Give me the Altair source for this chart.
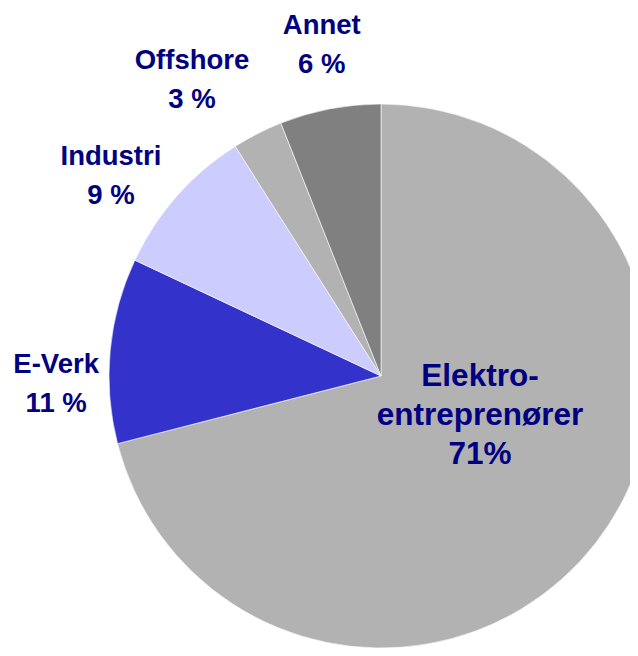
import altair as alt
import pandas as pd

# --- data ---
categories = ["Elektroentreprenører", "E-Verk", "Industri", "Offshore", "Annet"]
values = [71, 11, 9, 3, 6]
label_texts = ["Elektro-\nentreprenører\n71%", "E-Verk\n11 %", "Industri\n9 %", "Offshore\n3 %", "Annet\n6 %"]

# --- layout / style ---
colors = ["#b2b2b2", "#3333cc", "#ccccff", "#b2b2b2", "#808080"]
label_angle = [90.6, 271.9, 309.1, 329.0, 350.4]   # degrees clockwise from 12 o'clock (first text line)
label_radius = [99, 325, 348, 367, 355]            # px from centre
CX, CY, R = 373, 368, 272

df = pd.DataFrame({
    "cat": categories,
    "value": values,
    "order": list(range(len(categories))),
    "label": label_texts,
    "la": label_angle,
    "lr": label_radius,
})

pie = alt.Chart(df).mark_arc(outerRadius=R, stroke="white", strokeWidth=0.6, clip=True).encode(
    theta=alt.Theta("value:Q", stack=True),
    order=alt.Order("order:Q"),
    color=alt.Color("cat:N", scale=alt.Scale(domain=categories, range=colors), legend=None),
    x=alt.value(CX),
    y=alt.value(CY),
)

def lbl(i, size):
    return alt.Chart(df).transform_filter(alt.datum.order == i).mark_text(
        font="Liberation Sans", fontWeight="bold", fontSize=size, color="#000080",
        lineBreak="\n", lineHeight=39, align="center", baseline="middle",
    ).encode(
        theta=alt.Theta("la:Q", stack=None, scale=alt.Scale(domain=[0, 360], range=[0, 6.283185307])),
        radius=alt.Radius("lr:Q", scale=alt.Scale(type="linear", domain=[0, 400], range=[0, 400], zero=True)),
        text="label:N",
        x=alt.value(CX),
        y=alt.value(CY),
    )

labels = alt.layer(lbl(0, 31.5), *[lbl(i, 27.5) for i in range(1, 5)])

chart = alt.layer(pie, labels).resolve_scale(theta="independent", radius="independent").properties(
    width=622, height=640, padding=0
).configure_view(stroke=None)

chart.save("out.html", embed_options={"renderer": "svg", "actions": False})
